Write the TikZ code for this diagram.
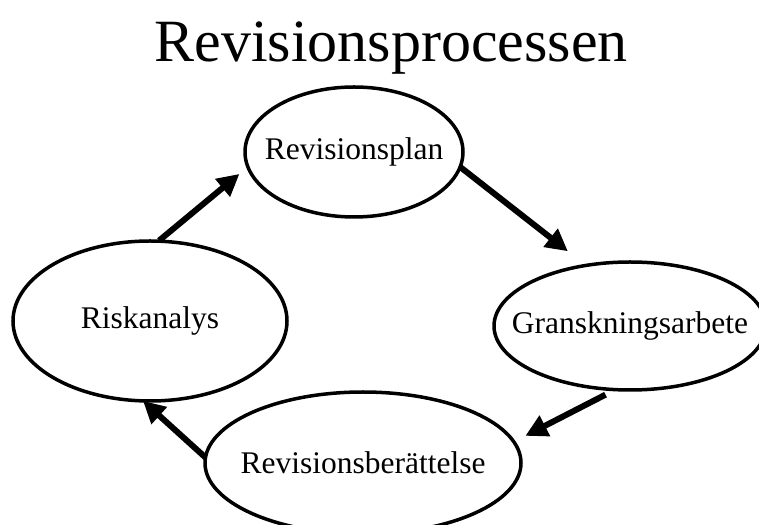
\documentclass[tikz,border=0pt]{standalone}
\usepackage{fontspec}
\setmainfont{Liberation Serif}
\usetikzlibrary{shapes.geometric}
\usetikzlibrary{arrows.meta}

\begin{document}
\begin{tikzpicture}[
        x = 1pt, y = 1pt,
        stage/.style = {ellipse, draw, line width=3.5pt, inner sep=0pt, outer sep=0pt,
            label={[font=\fontsize{31.5}{36}\selectfont]center:#1}},
        flow/.style = {line width=6pt, -{Triangle[length=22pt,width=22pt]}},
		]

        \clip (0,0) rectangle (759,524);

        % Title
        \node (title) at (391,476) [font=\fontsize{60}{66}\selectfont] {Revisionsprocessen};

        % Stages
        \node (plan) at (354,372) [stage=Revisionsplan, minimum width=218, minimum height=130] {};
        \node (gransk) at (630,198) [stage=Granskningsarbete, minimum width=272, minimum height=128] {};
        \node (berattelse) at (363,61) [stage=Revisionsberättelse, minimum width=316, minimum height=142] {};
        \node (risk) at (150,203) [stage=Riskanalys, minimum width=274, minimum height=160] {};

        % Arrows
        \draw [flow, shorten <=1pt, shorten >=11pt] (risk.84) -- (plan.188);
        \draw [flow, shorten >=23pt] (plan.-8) -- (gransk.126);
        \draw [flow, shorten <=11pt, shorten >=13pt] (gransk.257) -- (berattelse.8);
        \draw [flow] (berattelse.178) -- (risk.265);
    \end{tikzpicture}
\end{document}
